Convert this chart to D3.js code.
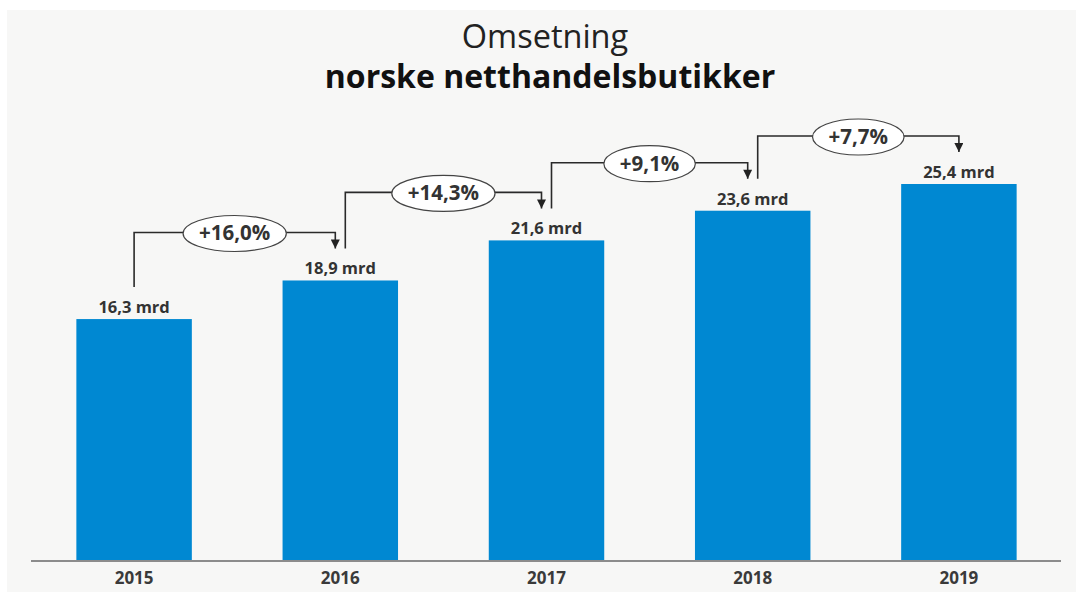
<!DOCTYPE html>
<html>
<head>
<meta charset="utf-8">
<script src="https://cdn.jsdelivr.net/npm/d3@7"></script>
<style>
  html, body { margin: 0; padding: 0; background: #ffffff; }
  svg { display: block; }
</style>
</head>
<body>
<svg id="chart" width="1076" height="608"></svg>
<script>
// Omsetning i norske nettbutikker, milliarder kroner
const years = ["2015", "2016", "2017", "2018", "2019"];
const revenue = [16.3, 18.9, 21.6, 23.6, 25.4];
const valueLabels = ["16,3 mrd", "18,9 mrd", "21,6 mrd", "23,6 mrd", "25,4 mrd"];
const growthLabels = ["+16,0%", "+14,3%", "+9,1%", "+7,7%"];

const W = 1076, H = 608;
const svg = d3.select("#chart");
const font = "'Open Sans', 'Noto Sans', sans-serif";

// panel background
svg.append("rect")
  .attr("x", 7).attr("y", 10)
  .attr("width", W - 7).attr("height", 582)
  .attr("fill", "#f7f7f6");

// title
svg.append("text")
  .attr("x", 545).attr("y", 48)
  .attr("text-anchor", "middle")
  .attr("font-family", font)
  .attr("font-size", 32.5)
  .attr("fill", "#222")
  .text("Omsetning");
svg.append("text")
  .attr("x", 550).attr("y", 88)
  .attr("text-anchor", "middle")
  .attr("font-family", font)
  .attr("font-weight", 700)
  .attr("font-size", 32)
  .attr("fill", "#111")
  .text("norske netthandelsbutikker");

// scales
const baseY = 561;
const x = d3.scaleBand().domain(years).range([31, 1062]).paddingInner(0.44).paddingOuter(0.22);
const y = d3.scaleLinear().domain([0, 25.4]).range([baseY, 184]);

// bars
svg.append("g").selectAll("rect")
  .data(years)
  .join("rect")
  .attr("x", d => x(d))
  .attr("y", (d, i) => y(revenue[i]))
  .attr("width", x.bandwidth())
  .attr("height", (d, i) => baseY - y(revenue[i]))
  .attr("fill", "#0088d2");

// x axis
const axis = svg.append("g")
  .attr("transform", `translate(0,${baseY})`)
  .call(d3.axisBottom(x).tickSize(0).tickPadding(11));
axis.select(".domain").attr("stroke", "#8c8c8c").attr("stroke-width", 2)
  .attr("d", "M31,0H1061");
axis.selectAll("text")
  .attr("font-family", font)
  .attr("font-weight", 700)
  .attr("font-size", 17)
  .attr("fill", "#3a3a3a");

// value labels
const cx = d => x(d) + x.bandwidth() / 2;
svg.append("g").selectAll("text")
  .data(years)
  .join("text")
  .attr("x", d => cx(d))
  .attr("y", (d, i) => y(revenue[i]) - 6)
  .attr("text-anchor", "middle")
  .attr("font-family", font)
  .attr("font-weight", 700)
  .attr("font-size", 16.5)
  .attr("fill", "#333")
  .text((d, i) => valueLabels[i]);

// growth connectors
const defs = svg.append("defs");
defs.append("marker")
  .attr("id", "arrow")
  .attr("viewBox", "0 0 10 10")
  .attr("refX", 10).attr("refY", 5)
  .attr("markerWidth", 10).attr("markerHeight", 9)
  .attr("markerUnits", "userSpaceOnUse")
  .attr("orient", "auto")
  .append("path")
  .attr("d", "M0,0 L10,5 L0,10 Z")
  .attr("fill", "#222");

const conn = svg.append("g");
growthLabels.forEach((lab, i) => {
  const a = years[i], b = years[i + 1];
  const x0 = cx(a) + (i > 0 ? 5 : 0);
  const x1 = cx(b) - (i < growthLabels.length - 1 ? 5 : 0);
  const y0 = y(revenue[i]) - 32;
  const y1 = y(revenue[i + 1]) - 32;
  const lvl = y(revenue[i + 1]) - 48;
  const mx = (x0 + x1) / 2;

  conn.append("path")
    .attr("d", `M${x0},${y0}V${lvl}H${x1}V${y1}`)
    .attr("fill", "none")
    .attr("stroke", "#2a2a2a")
    .attr("stroke-width", 1.6)
    .attr("marker-end", "url(#arrow)");

  const t = conn.append("text")
    .attr("x", mx).attr("y", lvl + 8)
    .attr("text-anchor", "middle")
    .attr("font-family", font)
    .attr("font-weight", 700)
    .attr("font-size", 20.5)
    .attr("fill", "#333")
    .text(lab);
  const tw = t.node().getComputedTextLength();
  conn.insert("ellipse", () => t.node())
    .attr("cx", mx).attr("cy", lvl + 1)
    .attr("rx", tw / 2 + 16).attr("ry", 18)
    .attr("fill", "#ffffff")
    .attr("stroke", "#444")
    .attr("stroke-width", 1.2);
});
</script>
</body>
</html>
